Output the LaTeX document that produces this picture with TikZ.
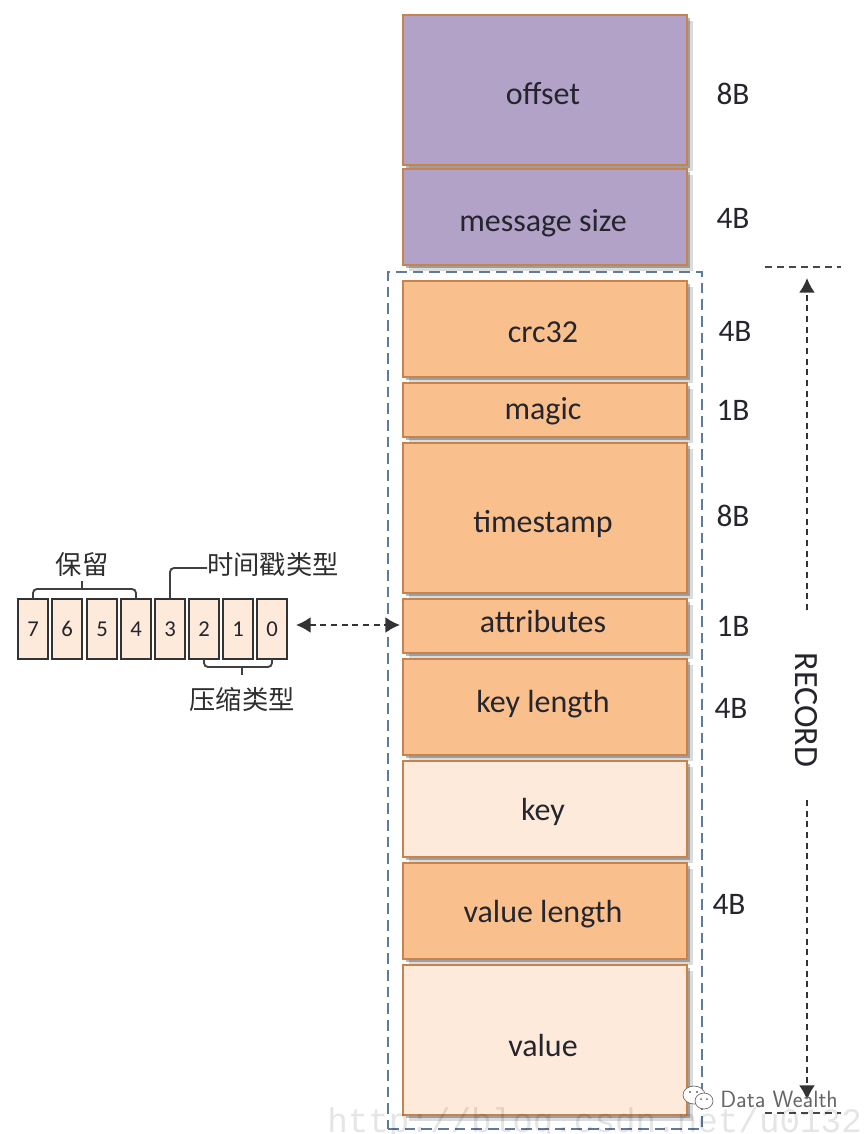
\documentclass[tikz,border=0pt]{standalone}
\usepackage{fontspec}
\setmainfont{Carlito}
\newfontfamily\cjkfont{Noto Sans CJK SC}
\newfontfamily\wmfont{Liberation Mono}
\usetikzlibrary{arrows.meta,calc}
\definecolor{purplefill}{HTML}{B3A2C7}
\definecolor{orangefill}{HTML}{F9C08E}
\definecolor{palefill}{HTML}{FDEADA}
\definecolor{boxline}{HTML}{C5844E}
\definecolor{dashblue}{HTML}{5F7A9F}
\definecolor{inkdark}{HTML}{25252E}
\tikzset{
  x=0.75pt,y=-0.75pt,
  cellbox/.style={draw=boxline,line width=1.8pt,outer sep=0pt,inner sep=0pt,anchor=north west,minimum width=213pt},
  shadowbox/.style={fill=black,draw=none,outer sep=0pt,inner sep=0pt,anchor=north west,minimum width=213pt},
  celltext/.style={font=\fontsize{24}{28}\selectfont,text=inkdark,anchor=base,inner sep=0pt},
  sizetext/.style={font=\fontsize{23.5}{28}\selectfont,text=inkdark,anchor=center,inner sep=0pt},
  bitbox/.style={draw=black!80,fill=palefill,line width=1.7pt,outer sep=0pt,inner sep=0pt,minimum width=22.5pt,minimum height=45pt,anchor=north west,
     font=\fontsize{17}{20}\selectfont,text=inkdark},
  cjklabel/.style={font=\cjkfont\fontsize{19.7}{24}\selectfont,text=black!82,inner sep=0pt},
  bracket/.style={draw=black!75,line width=1.4pt,rounded corners=3pt},
  dashedline/.style={draw=black!72,line width=1.4pt,dash pattern=on 5pt off 4pt},
  dashedarrow/.style={draw=black!80,line width=1.4pt,dash pattern=on 4.5pt off 3.5pt},
  bigtip/.style={arrows={-{Latex[length=11pt,width=12pt]}}},
  bothtip/.style={arrows={{Latex[length=11pt,width=12pt]}-{Latex[length=11pt,width=12pt]}}},
}
\newcommand{\cell}[6]{% name, top, bottom, fill, text, baseline
  \pgfmathsetmacro{\cellh}{(#3-#2)*0.75}
  \node[shadowbox,opacity=.14,minimum height=\cellh pt] at (409,#2+6) {};
  \node[shadowbox,opacity=.28,minimum height=\cellh pt] at (406,#2+3) {};
  \node[cellbox,fill=#4,minimum height=\cellh pt] (#1) at (403,#2) {};
  \node[celltext] at (543,#6) {#5};
}
\begin{document}
\begin{tikzpicture}
\useasboundingbox (0,0) rectangle (866,1134);
\fill[white] (0,0) rectangle (866,1134);
% dashed frame
\node[draw=dashblue,line width=1.5pt,dash pattern=on 8pt off 4.5pt,outer sep=0pt,inner sep=0pt,anchor=north west,minimum width=235.5pt,minimum height=643pt] (frame) at (388,272) {};
% stack
\cell{offset}{15}{165}{purplefill}{offset}{104.5}
\cell{msize}{169}{265}{purplefill}{message size}{231.5}
\cell{crc}{281}{377}{orangefill}{crc32}{342.5}
\cell{magic}{383}{437}{orangefill}{magic}{419.5}
\cell{tstamp}{443}{593}{orangefill}{timestamp}{532.5}
\cell{attr}{599}{653}{orangefill}{attributes}{632.5}
\cell{keylen}{659}{755}{orangefill}{key length}{712.5}
\cell{keyb}{761}{857}{palefill}{key}{820.5}
\cell{vallen}{863}{959}{orangefill}{value length}{922.5}
\cell{val}{965}{1115}{palefill}{value}{1056.5}
% sizes
\node[sizetext] (s1) at (733,94) {8B};
\node[sizetext] (s2) at (733,218) {4B};
\node[sizetext] (s3) at (735,331) {4B};
\node[sizetext] (s4) at (733,410) {1B};
\node[sizetext] (s5) at (733,516) {8B};
\node[sizetext] (s6) at (733,626) {1B};
\node[sizetext] (s7) at (731,708) {4B};
\node[sizetext] (s8) at (729,904) {4B};
% record
\node[sizetext,rotate=-90,font=\fontsize{25.5}{30}\selectfont] (rec) at (806,710) {RECORD};
\coordinate (rtopl) at (765,267);
\coordinate (rtopr) at (841,267);
\coordinate (rbotl) at (765,1113);
\coordinate (rbotr) at (841,1113);
\coordinate (rtop) at (807,278);
\coordinate (rbot) at (807,1100);
\coordinate (rup) at (807,610);
\coordinate (rdown) at (807,800);
\draw[dashedline] (rtopl) -- (rtopr);
\draw[dashedline] (rbotl) -- (rbotr);
\draw[dashedarrow,bigtip] (rup) -- (rtop);
\draw[dashedarrow,bigtip] (rdown) -- (rbot);
% bits
\node[bitbox] (b7) at (18,599) {7};
\node[bitbox] (b6) at (52,599) {6};
\node[bitbox] (b5) at (87,599) {5};
\node[bitbox] (b4) at (121,599) {4};
\node[bitbox] (b3) at (155,599) {3};
\node[bitbox] (b2) at (189,599) {2};
\node[bitbox] (b1) at (223,599) {1};
\node[bitbox] (b0) at (257,599) {0};
\node[cjklabel] (res) at (82,565) {保留};
\node[cjklabel] (ts) at (273,565) {时间戳类型};
\node[cjklabel] (cmp) at (242,699) {压缩类型};
\draw[bracket] (b7.north) |- (b4.north |- 0,589) -- (b4.north);
\draw[bracket,rounded corners=0pt] (res.south |- 0,589) -- (res.south |- 0,581);
\draw[bracket] (b2.south) |- (b0.south |- 0,667) -- (b0.south);
\draw[bracket,rounded corners=0pt] (cmp.north |- 0,667) -- (cmp.north |- 0,675);
\draw[bracket] (b3.north) |- (ts.west |- 0,568);
\draw[dashedarrow,bothtip] ($(b0.east)+(9,-4)$) -- ($(attr.west)+(-3,-1)$);
% wechat mark
\fill[white,draw=black!60,line width=.5pt] (694,1095) ellipse (11 and 9);
\fill[black!60] (690,1092) circle (1.2) (697,1092) circle (1.2);
\fill[white,draw=black!60,line width=.5pt] (704,1101) ellipse (9 and 8);
\fill[black!60] (701,1099) circle (1) (707,1099) circle (1);
\node[font=\fontsize{17.6}{20}\selectfont,text=black!60,anchor=west,inner sep=0pt] (dw) at (720,1099) {\sffamily Data Wealth};
% watermark
\node[font=\wmfont\fontsize{25.7}{30}\selectfont,text=black,opacity=.1,anchor=base west,inner sep=0pt] (wm) at (327,1132) {http://blog.csdn.net/u0132};
\end{tikzpicture}
\end{document}
